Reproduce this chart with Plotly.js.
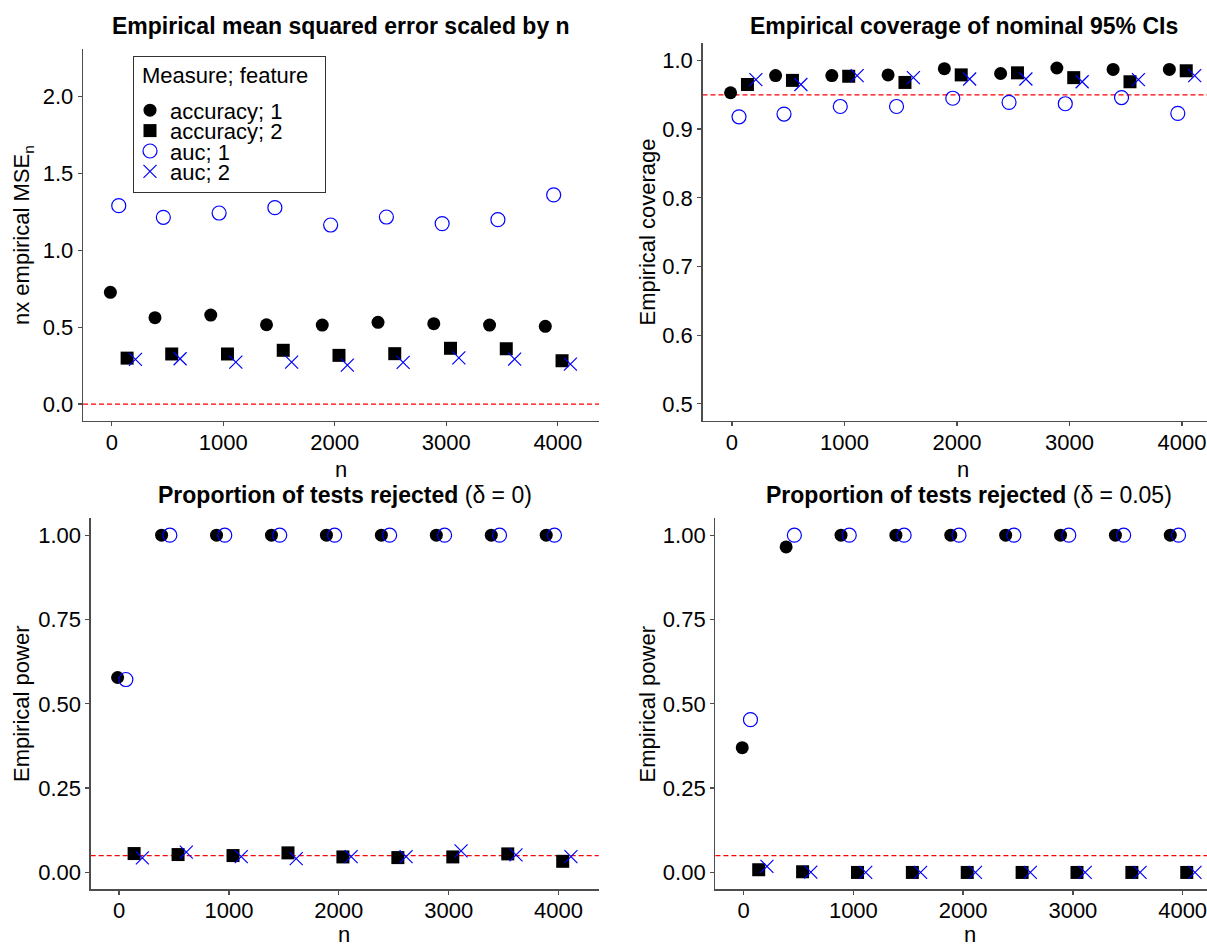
<!DOCTYPE html>
<html>
<head>
<meta charset="utf-8">
<script src="https://cdn.plot.ly/plotly-3.0.1.min.js"></script>
<style>
  html, body { margin: 0; padding: 0; background: #ffffff; }
  #chart { width: 1207px; height: 947px; }
</style>
</head>
<body>
<div id="chart"></div>
<script>
// Simulation sample sizes
const sampleSizes = [100, 500, 1000, 1500, 2000, 2500, 3000, 3500, 4000];

// Series: measure; feature
const seriesNames = ['accuracy; 1', 'accuracy; 2', 'auc; 1', 'auc; 2'];

// n x empirical MSE
const mseAcc1 = [0.727, 0.562, 0.579, 0.516, 0.514, 0.532, 0.523, 0.514, 0.506];
const mseAcc2 = [0.299, 0.326, 0.326, 0.350, 0.317, 0.328, 0.363, 0.360, 0.282];
const mseAuc1 = [1.291, 1.215, 1.243, 1.278, 1.165, 1.217, 1.174, 1.200, 1.361];
const mseAuc2 = [0.291, 0.295, 0.273, 0.273, 0.254, 0.271, 0.301, 0.293, 0.260];

// Empirical coverage of nominal 95% intervals
const covAcc1 = [0.953, 0.978, 0.978, 0.979, 0.988, 0.981, 0.989, 0.987, 0.987];
const covAcc2 = [0.965, 0.971, 0.977, 0.968, 0.979, 0.982, 0.975, 0.969, 0.985];
const covAuc1 = [0.918, 0.922, 0.933, 0.933, 0.945, 0.939, 0.937, 0.946, 0.923];
const covAuc2 = [0.972, 0.965, 0.978, 0.975, 0.973, 0.973, 0.969, 0.972, 0.978];

// Proportion of tests rejected, delta = 0
const rej0Acc1 = [0.578, 1, 1, 1, 1, 1, 1, 1, 1];
const rej0Acc2 = [0.056, 0.053, 0.050, 0.058, 0.046, 0.044, 0.046, 0.055, 0.033];
const rej0Auc1 = [0.572, 1, 1, 1, 1, 1, 1, 1, 1];
const rej0Auc2 = [0.043, 0.060, 0.047, 0.041, 0.047, 0.047, 0.064, 0.052, 0.047];

// Proportion of tests rejected, delta = 0.05
const rej5Acc1 = [0.370, 0.965, 1, 1, 1, 1, 1, 1, 1];
const rej5Acc2 = [0.008, 0.002, 0, 0, 0, 0, 0, 0, 0];
const rej5Auc1 = [0.453, 1, 1, 1, 1, 1, 1, 1, 1];
const rej5Auc2 = [0.018, 0.001, 0, 0, 0, 0, 0, 0, 0];

// Reference levels (dashed red lines): 0, nominal 0.95, alpha 0.05, alpha 0.05
const refLevels = [0, 0.95, 0.05, 0.05];

// Tick labels
const xTicks = [0, 1000, 2000, 3000, 4000];
const yTicksMse = [0, 0.5, 1.0, 1.5, 2.0];
const yTicksCov = [0.5, 0.6, 0.7, 0.8, 0.9, 1.0];
const yTicksRej = [0, 0.25, 0.5, 0.75, 1.0];

// ---------------------------------------------------------------
const FONT = '"Liberation Sans", Arial, Helvetica, sans-serif';
const W = 1207, H = 947;
const px = v => v / W;
const py = v => 1 - v / H;

// dodge: groups ordered by feature, then measure
const dodgeWidth = 300;
const dodgeSlot = [0, 2, 1, 3]; // acc1, acc2, auc1, auc2
const dodged = (k) => sampleSizes.map(n => n + (dodgeSlot[k] - 1.5) * dodgeWidth / 4);

const markerStyles = [
  { symbol: 'circle', size: 13, color: '#000000', line: { width: 0 } },
  { symbol: 'square', size: 13, color: '#000000', line: { width: 0 } },
  { symbol: 'circle-open', size: 14, color: '#0000ff', line: { width: 1.2, color: '#0000ff' } },
  { symbol: 'x-thin-open', size: 13, color: '#0000ff', line: { width: 1.2, color: '#0000ff' } }
];

const panels = [
  { series: [mseAcc1, mseAcc2, mseAuc1, mseAuc2], ax: '' },
  { series: [covAcc1, covAcc2, covAuc1, covAuc2], ax: '2' },
  { series: [rej0Acc1, rej0Acc2, rej0Auc1, rej0Auc2], ax: '3' },
  { series: [rej5Acc1, rej5Acc2, rej5Auc1, rej5Auc2], ax: '4' }
];

const traces = [];
panels.forEach((p, pi) => {
  p.series.forEach((vals, k) => {
    traces.push({
      type: 'scatter',
      mode: 'markers',
      x: dodged(k),
      y: vals,
      xaxis: 'x' + p.ax,
      yaxis: 'y' + p.ax,
      name: seriesNames[k],
      legendgroup: seriesNames[k],
      showlegend: pi === 0,
      marker: markerStyles[k],
      hoverinfo: 'x+y+name',
      cliponaxis: false
    });
  });
});

const axisBase = {
  showgrid: false, zeroline: false, showline: true,
  linecolor: '#4d4d4d', linewidth: 1.3, mirror: false,
  ticks: 'outside', ticklen: 4, tickwidth: 1.3, tickcolor: '#4d4d4d',
  tickfont: { family: FONT, size: 22, color: '#000000' },
  ticklabeloverflow: 'allow',
  fixedrange: true
};

const xAxis = (x0, x1, range, anchor) => Object.assign({}, axisBase, {
  domain: [px(x0), px(x1)], range: range, anchor: anchor,
  tickvals: xTicks, ticktext: xTicks.map(String),
  ticklabelstandoff: -3
});
const yAxis = (y0, y1, range, anchor, ticks, fmt) => Object.assign({}, axisBase, {
  domain: [py(y1), py(y0)], range: range, anchor: anchor,
  tickvals: ticks, ticktext: ticks.map(v => v.toFixed(fmt))
});

const hline = (ax, level) => ({
  type: 'line', xref: 'x' + ax + ' domain', yref: 'y' + ax,
  x0: 0, x1: 1, y0: level, y1: level,
  line: { color: '#ff0000', width: 1.3, dash: '5px,3px' },
  layer: 'below'
});

const ann = (text, x, y, size, opts) => Object.assign({
  text: text, xref: 'paper', yref: 'paper', x: px(x), y: py(y),
  showarrow: false, xanchor: 'center', yanchor: 'middle',
  font: { family: FONT, size: size, color: '#000000' }
}, opts || {});

const layout = {
  width: W, height: H,
  paper_bgcolor: '#ffffff', plot_bgcolor: '#ffffff',
  margin: { l: 0, r: 0, t: 0, b: 0 },
  font: { family: FONT, color: '#000000' },
  showlegend: true,
  legend: {
    x: px(133), y: py(55.7), xanchor: 'left', yanchor: 'top',
    bgcolor: '#ffffff', bordercolor: '#333333', borderwidth: 1,
    font: { family: FONT, size: 22, color: '#000000' },
    title: { text: 'Measure; feature', font: { family: FONT, size: 22, color: '#000000' } },
    tracegroupgap: 0
  },
  xaxis:  xAxis(83, 599, [-258, 4369], 'y'),
  yaxis:  yAxis(49, 421, [-0.11, 2.31], 'x', yTicksMse, 1),
  xaxis2: xAxis(702.5, 1207, [-262, 4222], 'y2'),
  yaxis2: yAxis(43.3, 421, [0.475, 1.025], 'x2', yTicksCov, 1),
  xaxis3: xAxis(90.7, 598.7, [-257.5, 4365], 'y3'),
  yaxis3: yAxis(518.3, 889.3, [-0.05, 1.05], 'x3', yTicksRej, 2),
  xaxis4: xAxis(715.4, 1207, [-257, 4222], 'y4'),
  yaxis4: yAxis(518.3, 889.3, [-0.05, 1.05], 'x4', yTicksRej, 2),
  shapes: [hline('', refLevels[0]), hline('2', refLevels[1]), hline('3', refLevels[2]), hline('4', refLevels[3])],
  annotations: [
    ann('<b>Empirical mean squared error scaled by n</b>', 340.6, 26, 23),
    ann('<b>Empirical coverage of nominal 95% CIs</b>', 963.5, 26, 23),
    ann('<b>Proportion of tests rejected</b> (δ = 0)', 344.7, 495, 23),
    ann('<b>Proportion of tests rejected</b> (δ = 0.05)', 969, 495, 23),
    ann('n', 341, 469, 22),
    ann('n', 963, 469, 22),
    ann('n', 344.4, 934, 22),
    ann('n', 969.7, 934, 22),
    ann('nx empirical MSE<sub>n</sub>', 23, 235, 22, { textangle: -90 }),
    ann('Empirical coverage', 646.5, 232, 22, { textangle: -90 }),
    ann('Empirical power', 21, 704, 22, { textangle: -90 }),
    ann('Empirical power', 646.5, 704, 22, { textangle: -90 })
  ]
};

// Tighten the legend rows to a compact key box
function compactLegend(gd) {
  const leg = gd.querySelector('g.legend');
  if (!leg) return;
  const boxW = 192, boxH = 136;
  const bg = leg.querySelector('rect.bg');
  if (bg) { bg.setAttribute('width', boxW); bg.setAttribute('height', boxH); }
  const sb = leg.querySelector('g.scrollbox');
  if (sb) { sb.removeAttribute('clip-path'); sb.style.clipPath = 'none'; }
  const parseT = el => {
    const m = /translate\(\s*([-\d.e]+)[\s,]+([-\d.e]+)\s*\)/.exec(el.getAttribute('transform') || '');
    return m ? [+m[1], +m[2]] : [0, 0];
  };
  const title = leg.querySelector('.legendtitletext');
  if (title) {
    const b = title.getBBox();
    const [tx, ty] = parseT(title);
    title.setAttribute('transform', `translate(${tx + 9 - b.x},${ty + 19.5 - (b.y + b.height / 2)})`);
  }
  leg.querySelectorAll('g.traces').forEach((g, i) => {
    const [tx] = parseT(g);
    g.setAttribute('transform', `translate(${tx - 4},${54.5 + i * 20.4})`);
  });
}

Plotly.newPlot('chart', traces, layout, { displayModeBar: false, staticPlot: true })
  .then(compactLegend);
</script>
</body>
</html>
